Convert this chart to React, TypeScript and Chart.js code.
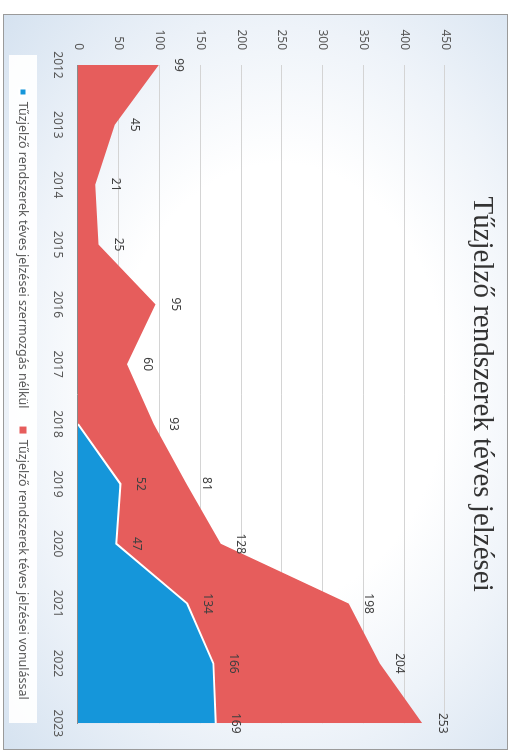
import React, { useEffect, useRef } from "react";
import { Chart, registerables } from "chart.js";

Chart.register(...registerables);

// ---- data ----
const years = ["2012", "2013", "2014", "2015", "2016", "2017", "2018", "2019", "2020", "2021", "2022", "2023"];
const withoutTurnout: (number | null)[] = [null, null, null, null, null, null, 0, 52, 47, 134, 166, 169];
const withTurnout: number[] = [99, 45, 21, 25, 95, 60, 93, 81, 128, 198, 204, 253];
const valueMin = 0;
const valueMax = 450;
const valueStep = 50;
const titleText = "Tűzjelző rendszerek téves jelzései";
const seriesNames = [
  "Tűzjelző rendszerek téves jelzései szermozgás nélkül",
  "Tűzjelző rendszerek téves jelzései vonulással",
];

// ---- style ----
const W = 736;
const H = 505;
const BLUE = "#1596da";
const RED = "#e65d5c";
const SANS = "'Noto Sans', 'DejaVu Sans', sans-serif";

const decorPlugin = {
  id: "decor",
  beforeDraw(chart: any) {
    const ctx = chart.ctx;
    ctx.save();
    // white legend panel
    ctx.fillStyle = "rgba(255,255,255,0.92)";
    ctx.fillRect(41, 471, 668, 28);
    ctx.restore();
  },
  afterDatasetsDraw(chart: any) {
    const ctx = chart.ctx;
    ctx.save();
    ctx.font = `12px ${SANS}`;
    ctx.fillStyle = "#404040";
    ctx.textAlign = "center";
    ctx.textBaseline = "middle";
    chart.data.datasets.forEach((ds: any, i: number) => {
      const meta = chart.getDatasetMeta(i);
      meta.data.forEach((pt: any, j: number) => {
        const v = ds.data[j];
        if (v === null || v === 0 || v === undefined) return;
        ctx.fillText(String(v), pt.x, pt.y - 20);
      });
    });
    ctx.restore();
  },
  afterDraw(chart: any) {
    const ctx = chart.ctx;
    ctx.save();
    ctx.strokeStyle = "#9a9a9a";
    ctx.lineWidth = 1;
    ctx.strokeRect(0.5, 0.5, W - 1, H - 1);
    ctx.restore();
  },
};

export default function App() {
  const ref = useRef<HTMLCanvasElement | null>(null);

  useEffect(() => {
    if (!ref.current) return;
    const chart = new Chart(ref.current, {
      type: "line",
      data: {
        labels: years,
        datasets: [
          {
            label: seriesNames[0],
            data: withoutTurnout,
            backgroundColor: BLUE,
            borderColor: "#ffffff",
            borderWidth: 2,
            fill: "origin",
            pointRadius: 0,
            tension: 0,
            order: 0,
          },
          {
            label: seriesNames[1],
            data: withTurnout,
            backgroundColor: RED,
            borderColor: RED,
            borderWidth: 0,
            fill: "origin",
            pointRadius: 0,
            tension: 0,
            order: 1,
          },
        ],
      },
      options: {
        responsive: false,
        animation: false,
        layout: { padding: { left: 0, right: 21, top: 0, bottom: 3.75 } },
        plugins: {
          title: {
            display: true,
            fullSize: false,
            text: titleText,
            color: "#333333",
            font: { family: "'Liberation Serif', 'DejaVu Serif', serif", size: 29, weight: "normal" },
            padding: { top: 9, bottom: 19.2 },
          },
          legend: {
            display: true,
            fullSize: false,
            position: "bottom",
            labels: {
              boxWidth: 7,
              boxHeight: 7,
              padding: 18,
              color: "#595959",
              font: { family: SANS, size: 12.5 },
            },
          },
          tooltip: { enabled: false },
        },
        scales: {
          x: {
            offset: false,
            grid: { display: false, drawTicks: false },
            border: { display: true, color: "#8a8a8a", width: 1 },
            ticks: { color: "#595959", font: { family: SANS, size: 12 }, padding: 13, maxRotation: 0, autoSkip: false },
            afterFit: (s: any) => {
              s.height = 30.75;
            },
          },
          y: {
            stacked: true,
            min: valueMin,
            max: valueMax,
            ticks: { stepSize: valueStep, color: "#595959", font: { family: SANS, size: 12 }, padding: 15 },
            grid: {
              drawTicks: false,
              color: (c: any) => (c.tick && c.tick.value === 0 ? "rgba(0,0,0,0)" : "#d4d4d4"),
            },
            border: { display: false },
            afterFit: (s: any) => {
              s.width = 51;
            },
          },
        },
      },
      plugins: [decorPlugin],
    } as any);
    return () => chart.destroy();
  }, []);

  return (
    <div
      style={{
        position: "absolute",
        left: 0,
        top: 0,
        width: W,
        height: H,
        transformOrigin: "0 0",
        transform: "translate(508px, 14px) rotate(90deg)",
        background:
          "radial-gradient(ellipse at 50% 45%, #ffffff 0%, #ffffff 42%, #eef3f9 68%, #d5e2f0 100%)",
      }}
    >
      <canvas ref={ref} width={W} height={H} style={{ display: "block", width: W, height: H }} />
    </div>
  );
}
